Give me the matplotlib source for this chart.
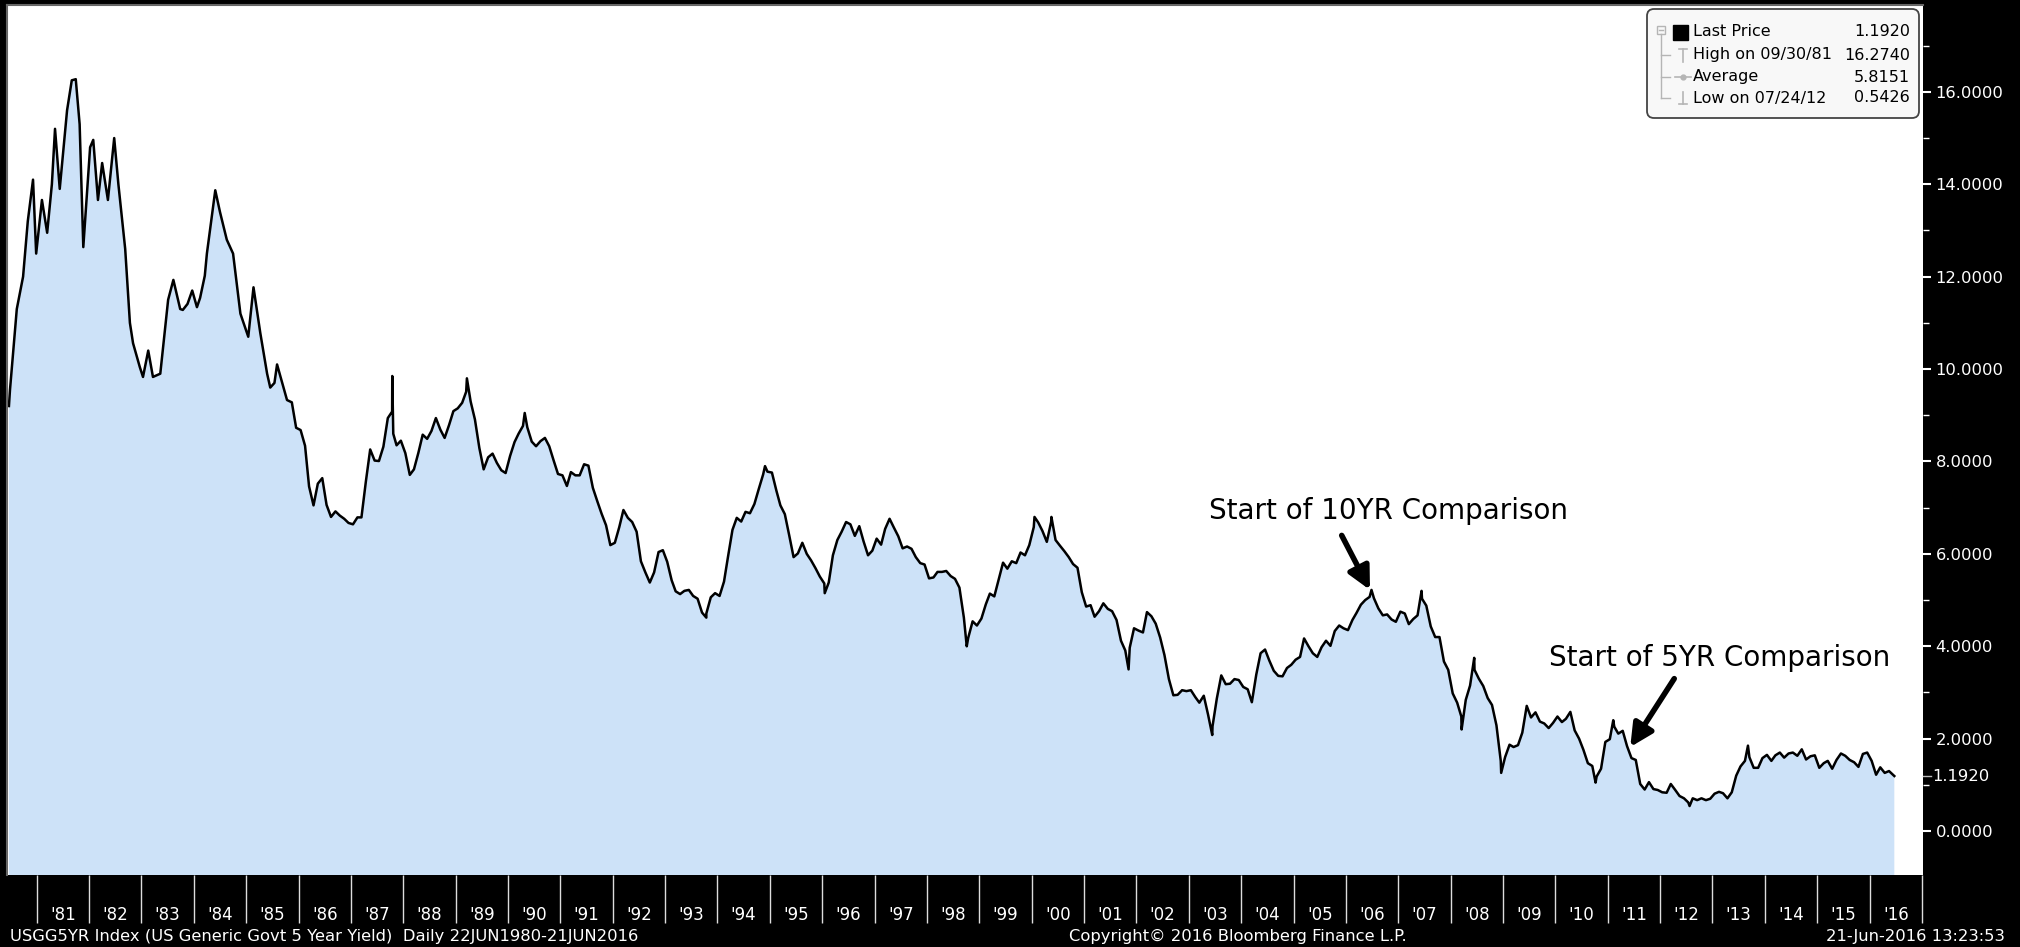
import matplotlib
matplotlib.use('Agg')
import matplotlib.pyplot as plt
from matplotlib.patches import FancyBboxPatch, Rectangle
from matplotlib.transforms import IdentityTransform, blended_transform_factory
import numpy as np
import pandas as pd

W, H = 2020, 947

# 1980-1985 (decimal years)
early_years = [1980.47, 1980.49, 1980.62, 1980.74, 1980.83, 1980.93, 1980.99,
               1981.10, 1981.20, 1981.29, 1981.35, 1981.44, 1981.58, 1981.67,
               1981.746, 1981.82, 1981.89, 1982.02, 1982.08, 1982.17, 1982.25,
               1982.36, 1982.48, 1982.56, 1982.69, 1982.78, 1982.84, 1982.97,
               1983.03, 1983.13, 1983.22, 1983.36, 1983.51, 1983.61, 1983.74,
               1983.79, 1983.88, 1983.97, 1984.06, 1984.12, 1984.21, 1984.25,
               1984.41, 1984.50, 1984.63, 1984.75, 1984.89, 1985.04, 1985.14,
               1985.27, 1985.40, 1985.46, 1985.54, 1985.59, 1985.78]
early_yields = [9.2, 9.55, 11.3, 12.0, 13.2, 14.1, 12.5,
                13.66, 12.95, 14.0, 15.2, 13.9, 15.6, 16.25,
                16.274, 15.3, 12.64, 14.8, 14.96, 13.66, 14.46,
                13.66, 15.0, 14.0, 12.6, 11.0, 10.56, 10.04,
                9.83, 10.4, 9.83, 9.9, 11.5, 11.93, 11.3,
                11.28, 11.41, 11.7, 11.34, 11.54, 12.02, 12.5,
                13.87, 13.4, 12.8, 12.5, 11.2, 10.7, 11.77,
                10.78, 9.9, 9.6, 9.7, 10.1, 9.33]

# monthly readings from Nov 1985 to May 2016
monthly_start = '1985-11'
monthly_yields = [
    9.28, 8.73,
    8.68, 8.34, 7.46, 7.05, 7.52, 7.64, 7.06, 6.80, 6.92, 6.83, 6.76, 6.67,   # 86
    6.64, 6.79, 6.79, 7.57, 8.26, 8.02, 8.01, 8.32, 8.94, 9.08, 8.35, 8.45,   # 87
    8.18, 7.71, 7.83, 8.19, 8.58, 8.49, 8.66, 8.94, 8.69, 8.51, 8.79, 9.09,   # 88
    9.15, 9.27, 9.51, 9.30, 8.91, 8.29, 7.83, 8.09, 8.17, 7.97, 7.81, 7.75,   # 89
    8.12, 8.42, 8.60, 8.77, 8.74, 8.43, 8.33, 8.44, 8.51, 8.33, 8.02, 7.73,   # 90
    7.70, 7.47, 7.77, 7.70, 7.70, 7.94, 7.91, 7.43, 7.14, 6.87, 6.62, 6.19,   # 91
    6.24, 6.58, 6.95, 6.78, 6.69, 6.48, 5.84, 5.60, 5.38, 5.60, 6.04, 6.08,   # 92
    5.83, 5.43, 5.19, 5.13, 5.20, 5.22, 5.09, 5.03, 4.73, 4.71, 5.06, 5.15,   # 93
    5.09, 5.40, 5.94, 6.52, 6.78, 6.70, 6.91, 6.88, 7.08, 7.40, 7.72, 7.78,   # 94
    7.76, 7.37, 7.05, 6.86, 6.41, 5.93, 6.01, 6.24, 6.00, 5.86, 5.69, 5.51,   # 95
    5.36, 5.38, 5.97, 6.30, 6.48, 6.69, 6.64, 6.39, 6.60, 6.27, 5.97, 6.07,   # 96
    6.33, 6.20, 6.54, 6.76, 6.57, 6.38, 6.12, 6.16, 6.11, 5.93, 5.80, 5.77,   # 97
    5.47, 5.49, 5.61, 5.61, 5.63, 5.52, 5.46, 5.27, 4.62, 4.18, 4.54, 4.45,   # 98
    4.60, 4.91, 5.14, 5.08, 5.44, 5.81, 5.68, 5.84, 5.80, 6.03, 5.97, 6.19,   # 99
    6.58, 6.68, 6.50, 6.26, 6.69, 6.30, 6.18, 6.06, 5.93, 5.78, 5.70, 5.17,   # 00
    4.86, 4.89, 4.64, 4.76, 4.93, 4.81, 4.76, 4.57, 4.12, 3.91, 3.97, 4.39,   # 01
    4.34, 4.30, 4.74, 4.65, 4.49, 4.19, 3.81, 3.29, 2.94, 2.95, 3.05, 3.03,   # 02
    3.05, 2.90, 2.78, 2.93, 2.52, 2.27, 2.87, 3.37, 3.18, 3.19, 3.29, 3.27,   # 03
    3.12, 3.07, 2.79, 3.39, 3.85, 3.93, 3.69, 3.47, 3.36, 3.35, 3.53, 3.60,   # 04
    3.71, 3.77, 4.17, 4.00, 3.85, 3.77, 3.98, 4.12, 4.01, 4.33, 4.45, 4.39,   # 05
    4.35, 4.57, 4.72, 4.90, 5.00, 5.07, 5.04, 4.82, 4.67, 4.69, 4.58, 4.53,   # 06
    4.75, 4.71, 4.48, 4.59, 4.67, 5.03, 4.88, 4.43, 4.20, 4.20, 3.67, 3.49,   # 07
    2.98, 2.78, 2.48, 2.84, 3.15, 3.49, 3.30, 3.14, 2.88, 2.73, 2.29, 1.52,   # 08
    1.60, 1.87, 1.82, 1.86, 2.13, 2.71, 2.46, 2.57, 2.37, 2.33, 2.23, 2.34,   # 09
    2.48, 2.36, 2.43, 2.58, 2.18, 2.00, 1.76, 1.47, 1.41, 1.18, 1.35, 1.93,   # 10
    1.99, 2.26, 2.11, 2.17, 1.84, 1.58, 1.54, 1.02, 0.90, 1.06, 0.91, 0.89,   # 11
    0.84, 0.83, 1.02, 0.89, 0.76, 0.71, 0.62, 0.71, 0.67, 0.71, 0.67, 0.70,   # 12
    0.81, 0.85, 0.82, 0.71, 0.84, 1.20, 1.40, 1.52, 1.60, 1.37, 1.37, 1.58,   # 13
    1.65, 1.52, 1.64, 1.70, 1.59, 1.68, 1.70, 1.63, 1.77, 1.55, 1.62, 1.64,   # 14
    1.37, 1.47, 1.52, 1.35, 1.54, 1.68, 1.63, 1.54, 1.49, 1.39, 1.67, 1.70,   # 15
    1.52, 1.22, 1.38, 1.26, 1.30,                                             # 16
]

# daily extremes visible on the chart
spike_dates = ['1987-10-16', '1987-10-23', '1989-03-20', '1990-04-27', '1993-10-15',
               '1994-11-28', '1996-01-18', '1998-10-05', '2000-01-20', '2000-05-17',
               '2001-11-07', '2003-06-13', '2006-06-28', '2007-06-12', '2008-03-17',
               '2008-06-13', '2008-12-18', '2010-10-08', '2011-02-08', '2012-07-24',
               '2013-09-05', '2016-06-21']
spike_yields = [9.85, 8.6, 9.8, 9.05, 4.62,
                7.9, 5.15, 4.0, 6.8, 6.8,
                3.5, 2.08, 5.22, 5.2, 2.2,
                3.75, 1.26, 1.05, 2.4, 0.5426,
                1.85, 1.192]

year_labels = ["'%02d" % (y % 100) for y in range(1981, 2017)]
right_ticks = [0, 2, 4, 6, 8, 10, 12, 14, 16]

legend_rows = ['Last Price', 'High on 09/30/81', 'Average', 'Low on 07/24/12']
legend_vals = ['1.1920', '16.2740', '5.8151', '0.5426']


def dec_year(d):
    d = pd.Timestamp(d)
    return d.year + (d.dayofyear - 0.5) / 365.25


months = pd.period_range(monthly_start, periods=len(monthly_yields), freq='M')
xs = list(early_years) + [dec_year(m.to_timestamp() + pd.Timedelta(days=14)) for m in months] \
    + [dec_year(d) for d in spike_dates]
ys = list(early_yields) + list(monthly_yields) + list(spike_yields)
order = np.argsort(xs)
xs = np.array(xs)[order]
ys = np.array(ys)[order]

fig = plt.figure(figsize=(W / 100, H / 100), dpi=100, facecolor='black')
ax = fig.add_axes([7 / W, 1 - 875 / H, (1923 - 7) / W, (875 - 5) / H])
ax.set_facecolor('white')
ax.set_xlim(1980.433, 2017.02)
ax.set_ylim(-0.95, 17.88)

ax.fill_between(xs, ys, -5, color='#cde2f8', lw=0)
ax.plot(xs, ys, color='black', lw=1.8)

# axes
ax.yaxis.tick_right()
ax.set_yticks(right_ticks, labels=['%.4f' % v for v in right_ticks])
ax.set_yticks(np.arange(1, 18, 2), minor=True)
ax.tick_params(axis='y', which='major', length=6, width=1.5, color='white',
               labelcolor='white', labelsize=11.8, pad=3)
ax.tick_params(axis='y', which='minor', length=4, width=1, color='white')

ax.set_xticks(np.arange(1981, 2018), labels=[''] * 37)
ax.set_xticks(np.arange(1981.5, 2016.6, 1), labels=year_labels, minor=True)
ax.tick_params(axis='x', which='major', length=34.5, width=1, color='#dddddd')
ax.tick_params(axis='x', which='minor', length=0, pad=22, labelcolor='white',
               labelsize=12)

for s in ['left', 'top']:
    ax.spines[s].set_color('#666666')
    ax.spines[s].set_linewidth(1.5)
ax.spines['right'].set_visible(False)
ax.spines['bottom'].set_visible(False)

# last price marker on the right axis
tr = blended_transform_factory(ax.transAxes, ax.transData)
ax.annotate('1.1920', xy=(1.0, 1.192), xycoords=tr, xytext=(6.5, 0),
            textcoords='offset points', color='white', fontsize=11.8, va='center',
            annotation_clip=False)
ax.plot([1.0, 1.004], [1.192, 1.192], color='#bbbbbb', lw=1, transform=tr, clip_on=False)

# annotations
arrow = dict(arrowstyle='-|>', color='black', lw=4, mutation_scale=34,
             shrinkA=0, shrinkB=0)
ax.annotate('', xy=(2006.46, 5.22), xytext=(2005.92, 6.40), arrowprops=arrow)
ax.text(2006.82, 6.93, 'Start of 10YR Comparison', ha='center', va='center', fontsize=20)
ax.annotate('', xy=(2011.43, 1.82), xytext=(2012.27, 3.30), arrowprops=arrow)
ax.text(2013.13, 3.74, 'Start of 5YR Comparison', ha='center', va='center', fontsize=20)


def ftext(x, y, s, **kw):
    return fig.text(x / W, 1 - y / H, s, **kw)


def fline(xx, yy, **kw):
    fig.add_artist(plt.Line2D([v / W for v in xx], [1 - v / H for v in yy], **kw))


# legend box
fig.add_artist(FancyBboxPatch((1647, H - 118), 272, 109,
                              boxstyle='round,pad=0,rounding_size=7',
                              fc='#f8f8f8', ec='#444444', lw=1.3,
                              transform=IdentityTransform()))
row_y = [32, 55, 77, 98]
for lab, val, yy in zip(legend_rows, legend_vals, row_y):
    ftext(1693, yy, lab, fontsize=11.5, va='center', ha='left', color='black')
    ftext(1910, yy, val, fontsize=11.5, va='center', ha='right', color='black')
gray = '#b5b5b5'
fig.add_artist(Rectangle((1673, H - 40), 15, 15, fc='black', ec='black',
                         transform=IdentityTransform()))
fig.add_artist(Rectangle((1657, H - 34), 8, 8, fc='none', ec=gray, lw=1,
                         transform=IdentityTransform()))
fline([1659, 1663], [30, 30], color=gray, lw=1)
fline([1661, 1661], [34, 98], color=gray, lw=1)
for yy in row_y[1:]:
    fline([1661, 1670], [yy, yy], color=gray, lw=1)
fline([1683, 1683], [49, 62], color=gray, lw=1.2)
fline([1679, 1687], [49, 49], color=gray, lw=1.2)
fline([1675, 1691], [77, 77], color=gray, lw=1.2)
fig.add_artist(plt.Line2D([1683 / W], [1 - 77 / H], marker='o', ms=3.5, color=gray))
fline([1683, 1683], [92, 104], color=gray, lw=1.2)
fline([1679, 1687], [104, 104], color=gray, lw=1.2)

# footer
ftext(10, 936, 'USGG5YR Index (US Generic Govt 5 Year Yield)  Daily 22JUN1980-21JUN2016',
      color='white', fontsize=11.8, va='center', ha='left')
ftext(1069, 936, 'Copyright\u00a9 2016 Bloomberg Finance L.P.',
      color='white', fontsize=11.8, va='center', ha='left')
ftext(2005, 936, '21-Jun-2016 13:23:53',
      color='white', fontsize=11.8, va='center', ha='right')

fig.savefig('out.png', dpi=100, facecolor='black')
